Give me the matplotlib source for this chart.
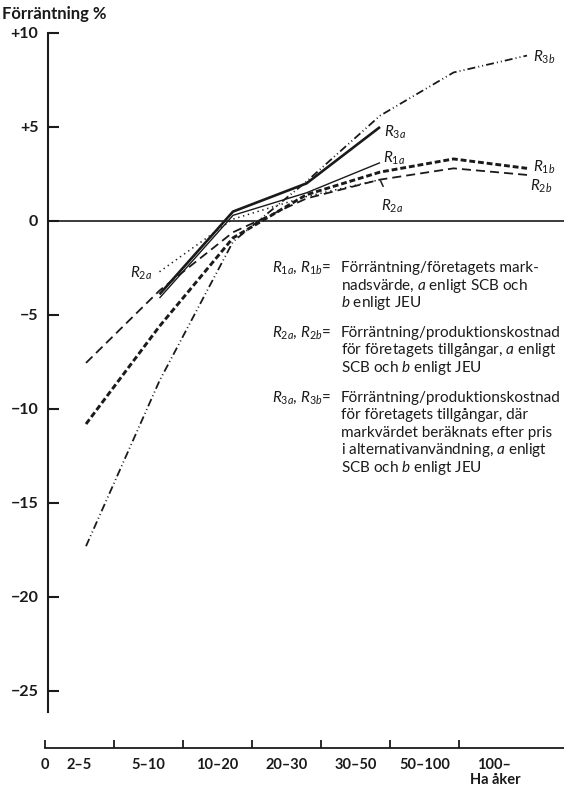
import numpy as np
import matplotlib
matplotlib.use("Agg")
import matplotlib.pyplot as plt

W, H = 564, 787
FONT = "Lato"
plt.rcParams['font.family'] = [FONT, 'DejaVu Sans']
plt.rcParams['mathtext.fontset'] = 'custom'
plt.rcParams['mathtext.rm'] = FONT
plt.rcParams['mathtext.it'] = FONT + ':italic'
plt.rcParams['mathtext.bf'] = FONT + ':bold'

# ---------------- data ----------------
categories = ["2–5", "5–10", "10–20", "20–30", "30–50", "50–100", "100–"]
nan = np.nan
R1a = [nan, -4.1, 0.3, 1.5, 3.1, nan, nan]
R3a = [nan, -3.9, 0.5, 2.0, 5.0, nan, nan]
R2a = [nan, -2.7, 0.1, 1.3, 2.2, nan, nan]
R1b = [-10.8, -5.6, -0.9, 1.4, 2.6, 3.3, 2.8]
R2b = [-7.55, -3.7, -0.6, 1.2, 2.2, 2.8, 2.45]
R3b = [-17.3, -8.5, -1.1, 2.1, 5.6, 7.9, 8.8]

yticks = [-25, -20, -15, -10, -5, 0, 5, 10]
ytick_labels = ["−25", "−20", "−15", "−10", "−5", "0", "+5", "+10"]
ylabel = "Förräntning %"
xlabel = "Ha åker"

legend_rows = [
    ("$R_{1a}$, $R_{1b}$=", ["Förräntning/företagets mark-",
                             "nadsvärde, $a$ enligt SCB och",
                             "$b$ enligt JEU"]),
    ("$R_{2a}$, $R_{2b}$=", ["Förräntning/produktionskostnad",
                             "för företagets tillgångar, $a$ enligt",
                             "SCB och $b$ enligt JEU"]),
    ("$R_{3a}$, $R_{3b}$=", ["Förräntning/produktionskostnad",
                             "för företagets tillgångar, där",
                             "markvärdet beräknats efter pris",
                             "i alternativanvändning, $a$ enligt",
                             "SCB och $b$ enligt JEU"]),
]

# ---------------- figure ----------------
fig = plt.figure(figsize=(W / 100, H / 100), dpi=100)


def fx(px):
    return px / W


def fy(py):
    return 1 - py / H


INK = "#1a1a1a"

# main plotting axes
ax = fig.add_axes([fx(48), fy(712), fx(564) - fx(48), fy(33) - fy(712)])
ax.set_xlim(-0.517, 6.503)
ax.set_ylim(-26.12, 10)
for s in ("top", "right", "bottom"):
    ax.spines[s].set_visible(False)
ax.spines["left"].set_linewidth(1.5)
ax.spines["left"].set_color(INK)
ax.set_xticks([])
ax.set_yticks(yticks)
ax.set_yticklabels(ytick_labels)
ax.tick_params(axis="y", direction="in", length=8, width=1.5, pad=7,
               labelsize=11.5, colors=INK)
for t in ax.get_yticklabels():
    t.set_fontweight("bold")
ax.axhline(0, color=INK, lw=1.2)

x = np.arange(len(categories))
ax.plot(x, R3b, color=INK, lw=1.3, dashes=(4.4, 1.7, 0.55, 1.7, 0.55, 1.7))
ax.plot(x, R2b, color=INK, lw=1.3, dashes=(5.0, 2.8))
ax.plot(x, R1b, color=INK, lw=2.1, dashes=(2.0, 1.0))
ax.plot(x, R2a, color=INK, lw=1.1, dashes=(0.9, 2.4))
ax.plot(x, R1a, color=INK, lw=1.0, solid_capstyle="butt")
ax.plot(x, R3a, color=INK, lw=1.9, solid_capstyle="butt")

lab_kw = dict(textcoords="offset points", fontsize=11, color=INK, va="center")
ax.annotate("$R_{3b}$", (x[6], R3b[6]), xytext=(4.5, -1.5), ha="left", **lab_kw)
ax.annotate("$R_{3a}$", (x[4], R3a[4]), xytext=(3, -4), ha="left", **lab_kw)
ax.annotate("$R_{1a}$", (x[4], R1a[4]), xytext=(2, 3), ha="left", **lab_kw)
ax.annotate("$R_{1b}$", (x[6], R1b[6]), xytext=(4, 0.5), ha="left", **lab_kw)
ax.annotate("$R_{2b}$", (x[6], R2b[6]), xytext=(2, -8), ha="left", **lab_kw)
ax.annotate("$R_{2a}$", (x[1], R2a[1]), xytext=(-5, -1), ha="right", **lab_kw)
ax.annotate("$R_{2a}$", (x[4], R2a[4]), xytext=(9, -19.5), ha="center",
            arrowprops=dict(arrowstyle="-", color=INK, lw=1.1,
                            shrinkA=7, shrinkB=1), **lab_kw)

# y label
fig.text(fx(2), fy(14), ylabel, fontsize=12, fontweight="bold", color=INK,
         ha="left", va="center")

# bottom category axis
axb = fig.add_axes([fx(45), fy(748), fx(564) - fx(45), 10 / H])
axb.set_xlim(0, 7.52)
axb.set_ylim(0, 1)
for s in ("top", "right", "left"):
    axb.spines[s].set_visible(False)
axb.spines["bottom"].set_linewidth(1.3)
axb.spines["bottom"].set_color(INK)
axb.set_yticks([])
axb.set_xticks(np.arange(len(categories)))
axb.set_xticklabels(["0"] + [""] * (len(categories) - 1))
axb.set_xticks(np.arange(len(categories)) + 0.5, minor=True)
axb.set_xticklabels(categories, minor=True)
axb.tick_params(axis="x", which="major", direction="in", length=6, width=1.3,
                pad=7, labelsize=10.5, colors=INK)
axb.tick_params(axis="x", which="minor", length=0, pad=7, labelsize=10.5,
                colors=INK)
for t in axb.get_xticklabels(which="both"):
    t.set_fontweight("bold")
fig.text(fx(495), fy(780), xlabel, fontsize=10.5, fontweight="bold",
         color=INK, ha="center", va="center")

# explanation block
y0 = 268
line_h = 17.6
group_gap = 12
yy = y0
for prefix, lines in legend_rows:
    fig.text(fx(272), fy(yy), prefix, fontsize=11, color=INK,
             ha="left", va="center")
    for ln in lines:
        fig.text(fx(341), fy(yy), ln, fontsize=11, color=INK,
                 ha="left", va="center")
        yy += line_h
    yy += group_gap

fig.savefig("out.png", dpi=100)
